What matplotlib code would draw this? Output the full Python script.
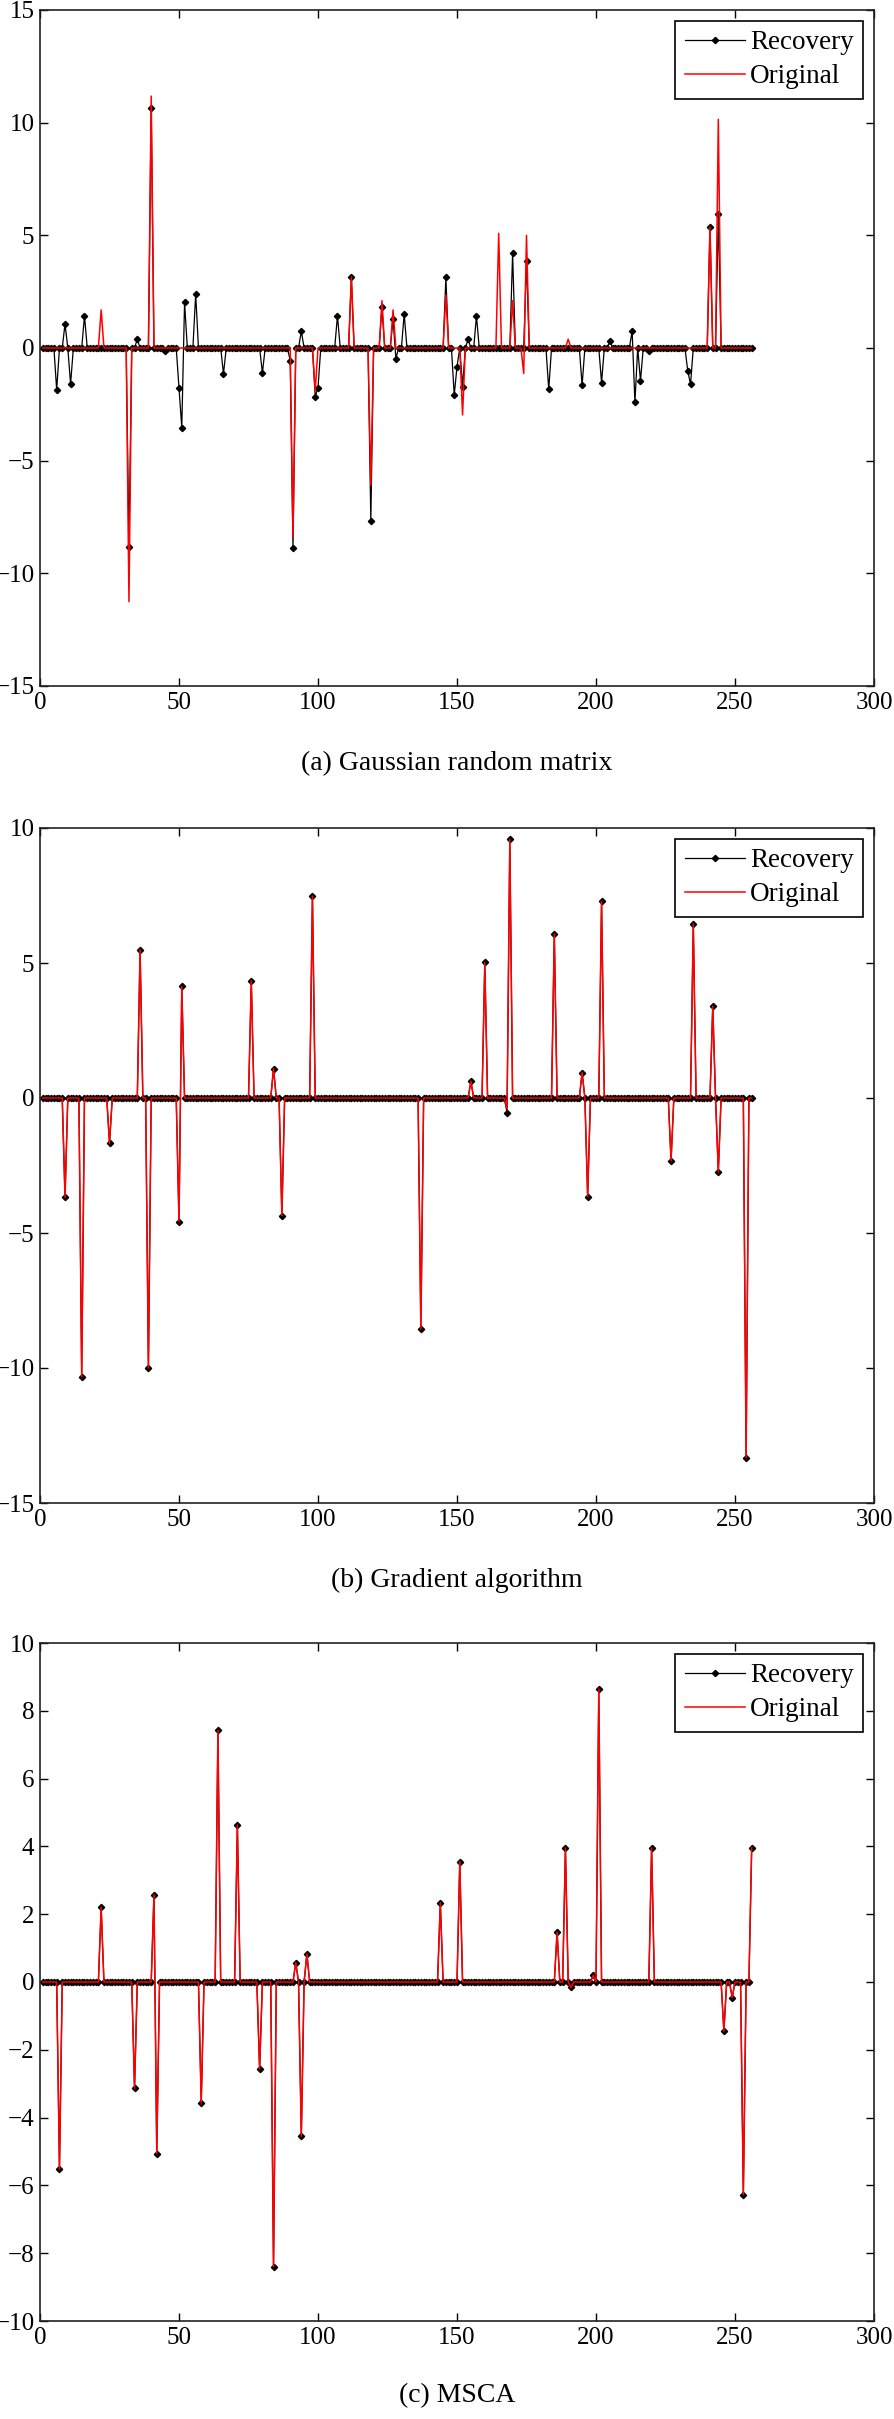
import numpy as np
import matplotlib
matplotlib.use("Agg")
import matplotlib.pyplot as plt

plt.rcParams['font.family'] = ['Liberation Serif', 'DejaVu Serif']

N = 256
x = np.arange(1, N + 1)

# Panel (a): Gaussian random matrix
rec_a_idx = [6, 9, 11, 16, 32, 35, 40, 45, 50, 51, 52, 56, 66, 80, 90, 91, 94, 99, 100,
             107, 112, 119, 123, 127, 128, 131, 146, 149, 150, 152, 154, 157, 170, 175,
             183, 195, 202, 205, 213, 214, 216, 219, 233, 234, 241, 244]
rec_a_val = [-1.86, 1.07, -1.6, 1.43, -8.85, 0.39, 10.65, -0.15, -1.76, -3.54, 2.03, 2.4,
             -1.15, -1.11, -0.56, -8.86, 0.75, -2.16, -1.76, 1.43, 3.14, -7.68, 1.8, 1.3,
             -0.47, 1.51, 3.14, -2.09, -0.83, -1.72, 0.38, 1.43, 4.2, 3.88, -1.84, -1.66,
             -1.54, 0.32, 0.75, -2.41, -1.46, -0.15, -1.02, -1.6, 5.38, 5.95]
orig_a_idx = [22, 32, 40, 91, 99, 112, 119, 123, 127, 146, 152, 165, 170, 174, 175, 190, 241, 244]
orig_a_val = [1.69, -11.26, 11.18, -8.4, -1.9, 3.14, -6.1, 2.1, 1.69, 2.35, -2.97, 5.09,
              2.1, -1.13, 5.0, 0.39, 5.38, 10.15]

# Panel (b): Gradient algorithm
rec_b_idx = [9, 15, 25, 36, 39, 50, 51, 76, 84, 87, 98, 137, 155, 160, 168, 169, 185,
             195, 197, 202, 227, 235, 242, 244, 254]
rec_b_val = [-3.68, -10.33, -1.68, 5.49, -10.0, -4.58, 4.13, 4.34, 1.09, -4.36, 7.47,
             -8.56, 0.62, 5.02, -0.54, 9.58, 6.07, 0.94, -3.65, 7.28, -2.33, 6.44, 3.4,
             -2.74, -13.32]
orig_b_idx = [9, 15, 25, 36, 39, 50, 51, 76, 84, 87, 98, 137, 155, 160, 168, 169, 185,
              195, 197, 202, 227, 235, 242, 244, 254]
orig_b_val = [-3.68, -10.33, -1.68, 5.49, -10.0, -4.58, 4.13, 4.34, 1.09, -4.36, 7.47,
              -8.56, 0.62, 5.02, -0.4, 9.58, 6.07, 0.94, -3.65, 7.28, -2.33, 6.44, 3.4,
              -2.74, -13.32]

# Panel (c): MSCA
rec_c_idx = [7, 22, 34, 41, 42, 58, 64, 71, 79, 84, 92, 94, 96, 144, 151, 186, 189, 191,
             199, 201, 220, 246, 249, 253, 256]
rec_c_val = [-5.52, 2.2, -3.14, 2.58, -5.06, -3.57, 7.42, 4.63, -2.57, -8.4, 0.57, -4.55,
             0.83, 2.34, 3.55, 1.47, 3.95, -0.16, 0.2, 8.64, 3.95, -1.45, -0.46, -6.27, 3.95]
orig_c_idx = list(rec_c_idx)
orig_c_val = list(rec_c_val)

captions = ["(a) Gaussian random matrix", "(b) Gradient algorithm", "(c) MSCA"]
ylims = [(-15, 15), (-15, 10), (-10, 10)]
yticks = [np.arange(-15, 16, 5), np.arange(-15, 11, 5), np.arange(-10, 11, 2)]
xticks = [0, 50, 100, 150, 200, 250, 300]


def dense(idx, val):
    s = np.zeros(N)
    s[np.array(idx) - 1] = val
    return s


W, H = 894, 2419
fig = plt.figure(figsize=(W / 100, H / 100), dpi=100)

# axes boxes in pixels: (top, bottom)
boxes = [(10, 686), (828, 1503), (1643, 2321)]
cap_y = [764, 1580, 2396]
left, right = 40, 874

data = [(rec_a_idx, rec_a_val, orig_a_idx, orig_a_val),
        (rec_b_idx, rec_b_val, orig_b_idx, orig_b_val),
        (rec_c_idx, rec_c_val, orig_c_idx, orig_c_val)]

for i in range(3):
    top, bot = boxes[i]
    ax = fig.add_axes([left / W, 1 - bot / H, (right - left) / W, (bot - top) / H])
    ri, rv, oi, ov = data[i]
    rec = dense(ri, rv)
    orig = dense(oi, ov)
    ax.plot(x, rec, color='black', lw=0.9, marker='D', ms=3.2, mec='black', mfc='black',
            label='Recovery')
    ax.plot(x, orig, color='red', lw=1.1, label='Original')
    ax.set_xlim(0, 300)
    ax.set_ylim(*ylims[i])
    ax.set_xticks(xticks)
    ax.set_yticks(yticks[i])
    ax.tick_params(direction='in', top=True, right=True, length=6, width=1.0,
                   labelsize=18, pad=4, colors='black')
    for sp in ax.spines.values():
        sp.set_linewidth(1.2)
        sp.set_color('#222222')
    leg = ax.legend(loc='upper right', fontsize=19.5, frameon=True, fancybox=False,
                    edgecolor='black', framealpha=1, handlelength=2.2, handletextpad=0.2,
                    borderpad=0.35, labelspacing=0.33, borderaxespad=0.4, numpoints=1)
    leg.get_frame().set_linewidth(1.2)
    fig.text((left + right) / 2 / W, 1 - cap_y[i] / H, captions[i], ha='center',
             va='center', fontsize=20)

fig.savefig('out.png', dpi=100)
